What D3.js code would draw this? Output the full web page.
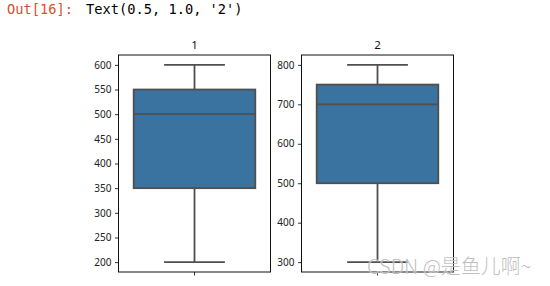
<!DOCTYPE html>
<html><head><meta charset="utf-8">
<script src="https://cdn.jsdelivr.net/npm/d3@7"></script>
<style>
html,body{margin:0;padding:0;background:#fff;}
svg{display:block;}
</style></head>
<body>
<svg id="chart" width="550" height="286"></svg>
<script>
// Data
const panelTitles = ["1", "2"];
const boxMin    = [200, 300];
const boxQ1     = [350, 500];
const boxMedian = [500, 700];
const boxQ3     = [550, 750];
const boxMax    = [600, 800];
const yDomains  = [[180, 620], [275, 825]];
const yTicks1   = [200, 250, 300, 350, 400, 450, 500, 550, 600];
const yTicks2   = [300, 400, 500, 600, 700, 800];
const yTicks    = [yTicks1, yTicks2];
const categories = [""];

const svg = d3.select("#chart");
const fillColor = "#3a72a0";
const lineColor = "#4f4f4f";
const lw = 1.8;

// Jupyter output prompt
svg.append("text").attr("x", 7).attr("y", 14)
  .attr("font-family", "DejaVu Sans Mono").attr("font-size", "13.7px")
  .attr("fill", "#d5502f").text("Out[16]:");
svg.append("text").attr("x", 86).attr("y", 14)
  .attr("font-family", "DejaVu Sans Mono").attr("font-size", "13.7px")
  .attr("fill", "#000").text("Text(0.5, 1.0, '2')");

const panels = [
  {x0: 118.5, x1: 270.5},
  {x0: 301.5, x1: 453.5}
];
const plotTop = 55, plotBottom = 272;

panels.forEach((p, i) => {
  const g = svg.append("g");
  const x = d3.scaleBand().domain(categories).range([p.x0, p.x1]).paddingInner(0).paddingOuter(0);
  const y = d3.scaleLinear().domain(yDomains[i]).range([plotBottom, plotTop]);
  const cx = x(categories[0]) + x.bandwidth() / 2;
  const bw = x.bandwidth() * 0.8;
  const capW = bw / 2;

  // whiskers
  g.append("line").attr("x1", cx).attr("x2", cx)
    .attr("y1", y(boxQ3[i])).attr("y2", y(boxMax[i]))
    .attr("stroke", lineColor).attr("stroke-width", lw);
  g.append("line").attr("x1", cx).attr("x2", cx)
    .attr("y1", y(boxQ1[i])).attr("y2", y(boxMin[i]))
    .attr("stroke", lineColor).attr("stroke-width", lw);
  // caps
  [boxMax[i], boxMin[i]].forEach(v => {
    g.append("line").attr("x1", cx - capW / 2).attr("x2", cx + capW / 2)
      .attr("y1", y(v)).attr("y2", y(v))
      .attr("stroke", lineColor).attr("stroke-width", lw);
  });
  // box
  g.append("rect").attr("x", cx - bw / 2).attr("width", bw)
    .attr("y", y(boxQ3[i])).attr("height", y(boxQ1[i]) - y(boxQ3[i]))
    .attr("fill", fillColor).attr("stroke", lineColor).attr("stroke-width", lw);
  // median
  g.append("line").attr("x1", cx - bw / 2).attr("x2", cx + bw / 2)
    .attr("y1", y(boxMedian[i])).attr("y2", y(boxMedian[i]))
    .attr("stroke", lineColor).attr("stroke-width", lw);

  // frame
  g.append("rect").attr("x", p.x0).attr("y", plotTop)
    .attr("width", p.x1 - p.x0).attr("height", plotBottom - plotTop)
    .attr("fill", "none").attr("stroke", "#111").attr("stroke-width", 1);

  // y axis
  const ya = g.append("g").attr("transform", `translate(${p.x0},0)`)
    .call(d3.axisLeft(y).tickValues(yTicks[i]).tickSize(3.5).tickPadding(3.5));
  ya.select(".domain").remove();
  ya.selectAll("line").attr("stroke", "#000").attr("stroke-width", 0.8);
  ya.selectAll("text").attr("font-family", "Noto Sans").attr("font-size", "10px").attr("fill", "#222");

  // x axis
  const xa = g.append("g").attr("transform", `translate(0,${plotBottom})`)
    .call(d3.axisBottom(x).tickSize(3.5));
  xa.select(".domain").remove();
  xa.selectAll("line").attr("stroke", "#000").attr("stroke-width", 0.8);

  // title
  g.append("text").attr("x", (p.x0 + p.x1) / 2).attr("y", 48.5)
    .attr("text-anchor", "middle").attr("font-family", "Noto Sans")
    .attr("font-size", "11.5px").attr("fill", "#111").text(panelTitles[i]);
});

// watermark
svg.append("text").attr("x", 367).attr("y", 274)
  .attr("font-family", "Noto Sans CJK SC").attr("font-size", "20px")
  .attr("font-weight", 300)
  .attr("fill", "#b4b4b4").attr("fill-opacity", 0.85)
  .attr("stroke", "#fff").attr("stroke-width", 0.6).attr("stroke-opacity", 0.6)
  .attr("paint-order", "stroke")
  .text("CSDN @是鱼儿啊~");
</script>
</body></html>
